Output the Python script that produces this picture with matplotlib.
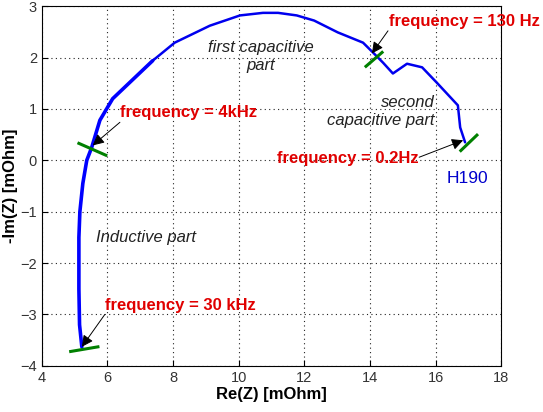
import matplotlib
matplotlib.use("Agg")
import matplotlib.pyplot as plt

plt.rcParams['font.family'] = ['Liberation Sans', 'DejaVu Sans']

# Nyquist curve H190
re_z = [5.22, 5.15, 5.13, 5.13, 5.16, 5.25, 5.37, 5.52, 5.77, 6.16, 6.77, 7.38,
        8.05, 9.12, 10.04, 10.74, 11.2, 11.77, 12.3, 13.02, 13.79, 14.09, 14.4,
        14.7, 15.13, 15.59, 16.04, 16.68, 16.75, 16.9]
im_z = [-3.63, -3.2, -2.5, -1.5, -1.0, -0.45, 0.0, 0.25, 0.78, 1.2, 1.57, 1.94,
        2.29, 2.62, 2.82, 2.87, 2.87, 2.82, 2.72, 2.49, 2.29, 2.1, 1.9,
        1.69, 1.88, 1.81, 1.51, 1.07, 0.64, 0.35]

# green frequency markers (short segments across the curve)
marker_x = [(4.88, 5.71), (5.13, 5.95), (13.88, 14.37), (16.77, 17.26)]
marker_y = [(-3.72, -3.63), (0.33, 0.10), (1.83, 2.10), (0.19, 0.49)]

# annotations: label, text position, arrow head
freq_labels = ["frequency = 30 kHz", "frequency = 4kHz",
               "frequency = 130 Hz", "frequency = 0.2Hz"]
label_xy = [(5.92, -2.83), (6.38, 0.93), (14.58, 2.70), (11.17, 0.04)]
tail_xy = [(5.92, -3.0), (6.38, 0.74), (14.55, 2.52), (15.5, 0.06)]
head_xy = [(5.22, -3.63), (5.55, 0.29), (14.06, 2.08), (16.84, 0.39)]

fig = plt.figure(figsize=(5.43, 4.12), dpi=100)
ax = fig.add_axes([0.077, 0.112, 0.846, 0.873])

ax.plot(re_z[:12], im_z[:12], color='#0000ff', lw=2.6, solid_capstyle='round')
ax.plot(re_z[11:], im_z[11:], color='#0000ee', lw=1.8, solid_capstyle='round')
for mx, my in zip(marker_x, marker_y):
    ax.plot(mx, my, color='#008000', lw=2.2)

for lab, txy, sxy, hxy in zip(freq_labels, label_xy, tail_xy, head_xy):
    ax.text(txy[0], txy[1], lab, color='#e00000', fontsize=12, fontweight='bold',
            ha='left', va='center')
    ax.annotate("", xy=hxy, xytext=sxy,
                arrowprops=dict(arrowstyle='-|>', color='k', lw=0.7,
                                mutation_scale=17, shrinkA=0, shrinkB=0))

ax.text(10.68, 2.02, "first capacitive\npart", style='italic', fontsize=12,
        ha='center', va='center', color='#222222', linespacing=1.25)
ax.text(15.98, 0.95, "second\ncapacitive part", style='italic', fontsize=12,
        ha='right', va='center', color='#222222', linespacing=1.25,
        multialignment='right')
ax.text(5.65, -1.5, "Inductive part", style='italic', fontsize=12,
        ha='left', va='center', color='#222222')
ax.text(16.35, -0.35, "H190", color='#0000cc', fontsize=12.5, ha='left', va='center')

ax.set_xlim(4, 18)
ax.set_ylim(-4, 3)
ax.set_xticks(range(4, 19, 2))
ax.set_yticks(range(-4, 4))
ax.grid(True, linestyle=(0, (1, 3)), color='#222222', lw=0.8)
ax.tick_params(direction='in', labelsize=10.5, labelcolor='#333333', length=4)
ax.set_xlabel("Re(Z) [mOhm]", fontsize=12, fontweight='bold', labelpad=2)
ax.set_ylabel("-Im(Z) [mOhm]", fontsize=12, fontweight='bold', labelpad=2)

fig.savefig("out.png", dpi=100)
